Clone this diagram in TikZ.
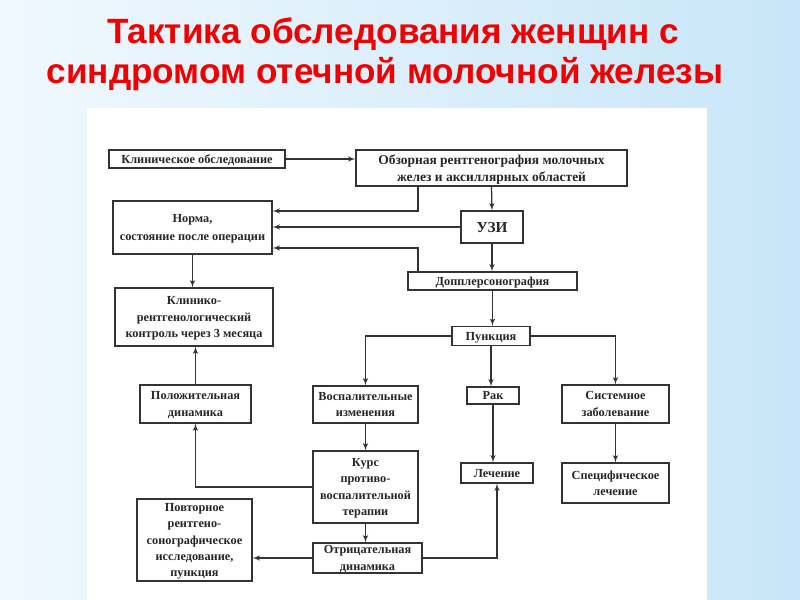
\documentclass[tikz,border=0pt]{standalone}
\usepackage{fontspec}
\setmainfont{Liberation Serif}
\newfontfamily\titlefont{Liberation Sans}
\usepackage{tikz}
\usetikzlibrary{arrows}
\definecolor{bgblue}{RGB}{200,230,248}
\definecolor{bglight}{RGB}{240,248,254}
\definecolor{titlered}{RGB}{240,0,0}

\begin{document}
\begin{tikzpicture}[x=0.03cm,y=-0.03cm,->,>=latex',
  line width=1.1pt,draw=black!80,
  box node/.style={rectangle,draw=black!80,fill=white,align=center,
  inner sep=0pt,text=black!85,text depth=0pt,
  font=\bfseries\fontsize{10.5}{13.8}\selectfont},
  title node/.style={text=titlered,
  font=\titlefont\bfseries\fontsize{30}{36}\selectfont}]

  % background and white sheet
  \useasboundingbox (0,0) rectangle (800,600);
  \shade[left color=bglight,right color=bgblue,draw=none] (0,0) rectangle (800,600);
  \fill[white,draw=none] (87,108) rectangle (707,600);

  \node[title node] (T1) at (393,34) {Тактика обследования женщин с};
  \node[title node] (T2) at (385,74) {синдромом отечной молочной железы};

  \node[box node,minimum width=5.28cm,minimum height=0.54cm] (klin) at (197,159) {Клиническое обследование};
  \node[box node,minimum width=8.13cm,minimum height=1.08cm,font=\bfseries\fontsize{11.5}{15}\selectfont] (obz) at (491.5,168) {Обзорная рентгенография молочных\\желез и аксиллярных областей};
  \node[box node,minimum width=4.77cm,minimum height=1.59cm,font=\bfseries\fontsize{10.5}{15.2}\selectfont] (norma) at (192.5,227.5) {Норма,\\состояние после операции};
  \node[box node,minimum width=1.86cm,minimum height=0.96cm,font=\bfseries\fontsize{13}{15}\selectfont] (uzi) at (492,227) {УЗИ};
  \node[box node,minimum width=5.07cm,minimum height=0.54cm] (dopp) at (492.5,281) {Допплерсонография};
  \node[box node,minimum width=2.34cm,minimum height=0.57cm] (punk) at (491,336) {Пункция};
  \node[box node,minimum width=4.74cm,minimum height=1.74cm] (kontr) at (194,317) {Клинико-\\рентгенологический\\контроль через 3 месяца};
  \node[box node,minimum width=3.15cm,minimum height=1.11cm] (vosp) at (365.5,404.5) {Воспалительные\\изменения};
  \node[box node,minimum width=1.56cm,minimum height=0.51cm] (rak) at (493,395.5) {Рак};
  \node[box node,minimum width=3.21cm,minimum height=1.14cm] (sist) at (615.5,404) {Системное\\заболевание};
  \node[box node,minimum width=3.33cm,minimum height=1.14cm] (polozh) at (195.5,404) {Положительная\\динамика};
  \node[box node,minimum width=3.15cm,minimum height=2.16cm] (kurs) at (365.5,487) {Курс\\противо-\\воспалительной\\терапии};
  \node[box node,minimum width=2.16cm,minimum height=0.6cm] (lech) at (497,473) {Лечение};
  \node[box node,minimum width=3.21cm,minimum height=1.2cm] (spec) at (615.5,483) {Специфическое\\лечение};
  \node[box node,minimum width=3.27cm,minimum height=0.9cm] (otr) at (367.5,558) {Отрицательная\\динамика};
  \node[box node,minimum width=3.45cm,minimum height=2.46cm] (povt) at (194.5,540) {Повторное\\рентгено-\\сонографическое\\исследование,\\пункция};

  \coordinate (up) at (418,211);
  \coordinate (low) at (418,248);

  \draw (klin.east) -- (klin.east -| obz.west);
  \draw (obz.south) -- (uzi.north);
  \draw (obz.south -| up) |- (norma.east |- up);
  \draw (uzi.west) -- (uzi.west -| norma.east);
  \draw (dopp.north -| low) |- (norma.east |- low);
  \draw (uzi.south) -- (uzi.south |- dopp.north);
  \draw (dopp.south) -- (dopp.south |- punk.north);
  \draw (punk.west) -| (vosp.north);
  \draw (punk.east) -| (sist.north);
  \draw (punk.south) -- (punk.south |- rak.north);
  \draw (norma.south) -- (norma.south |- kontr.north);
  \draw (polozh.north) -- (polozh.north |- kontr.south);
  \draw (vosp.south) -- (vosp.south |- kurs.north);
  \draw (kurs.west) -| (polozh.south);
  \draw (kurs.south) -- (kurs.south |- otr.north);
  \draw (rak.south) -- (rak.south |- lech.north);
  \draw (sist.south) -- (spec.north);
  \draw (otr.west) -- (otr.west -| povt.east);
  \draw (otr.east) -| (lech.south);

\end{tikzpicture}
\end{document}
